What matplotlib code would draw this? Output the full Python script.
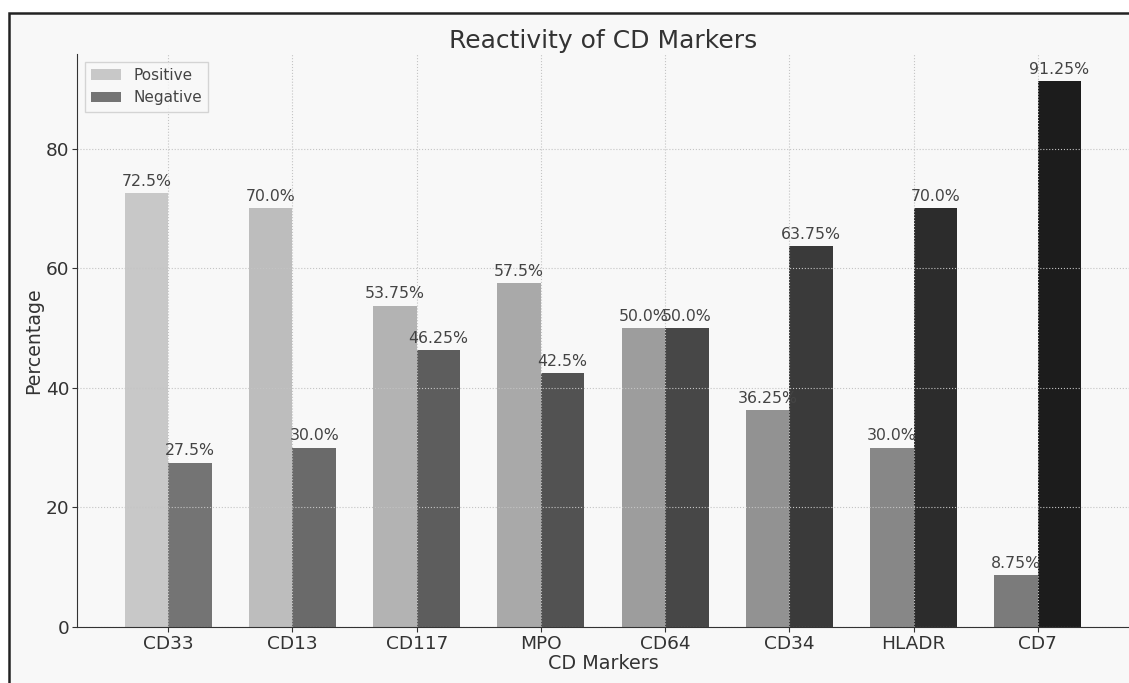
import numpy as np
import matplotlib
matplotlib.use("Agg")
import matplotlib.pyplot as plt
from matplotlib.patches import Rectangle

markers = ['CD33', 'CD13', 'CD117', 'MPO', 'CD64', 'CD34', 'HLADR', 'CD7']
positive = [72.5, 70.0, 53.75, 57.5, 50.0, 36.25, 30.0, 8.75]
negative = [27.5, 30.0, 46.25, 42.5, 50.0, 63.75, 70.0, 91.25]

# grey shades get darker from left to right
pos_colors = ['#c8c8c8', '#bdbdbd', '#b3b3b3', '#a9a9a9', '#9d9d9d', '#929292', '#878787', '#7b7b7b']
neg_colors = ['#747474', '#6a6a6a', '#5d5d5d', '#525252', '#474747', '#3a3a3a', '#2c2c2c', '#1c1c1c']

fig = plt.figure(figsize=(11.29, 6.83), dpi=100, facecolor='white')
ax = fig.add_axes([77 / 1129, 1 - 627 / 683, 1 - 77 / 1129, (627 - 54) / 683])

# outer frame
fig.patches.append(Rectangle((9 / 1129, -0.05), 1.05, 1 - 13 / 683 + 0.05,
                             transform=fig.transFigure, facecolor='#f8f8f8',
                             edgecolor='#222222', lw=1.8, zorder=-10))
ax.set_facecolor('#f8f8f8')

x = np.arange(len(markers))
w = 0.35
bars_pos = ax.bar(x - w / 2, positive, w, color=pos_colors, label='Positive')
bars_neg = ax.bar(x + w / 2, negative, w, color=neg_colors, label='Negative')

for bars in (bars_pos, bars_neg):
    for b in bars:
        h = b.get_height()
        ax.annotate(f'{h}%', (b.get_x() + b.get_width() / 2, h),
                    xytext=(0, 3), textcoords='offset points',
                    ha='center', va='bottom', fontsize=11.3, color='#444444')

ax.set_title('Reactivity of CD Markers', fontsize=18, color='#333333', pad=4)
ax.set_xlabel('CD Markers', fontsize=13.8, color='#333333', labelpad=1)
ax.set_ylabel('Percentage', fontsize=13.6, color='#333333', labelpad=2)
ax.set_xticks(x)
ax.set_xticklabels(markers)
ax.tick_params(labelsize=13.3, colors='#333333', pad=2)
ax.grid(True, linestyle=':', color='#c4c4c4', lw=0.8)
ax.spines['top'].set_visible(False)
ax.spines['right'].set_visible(False)
ax.spines['left'].set_color('#333333')
ax.spines['bottom'].set_color('#333333')

ax.legend(loc='upper left', fontsize=11, fancybox=False, edgecolor='#cccccc',
          facecolor='#f8f8f8', labelcolor='#444444', borderaxespad=0.5)

fig.savefig('out.png', dpi=100, facecolor=fig.get_facecolor())
